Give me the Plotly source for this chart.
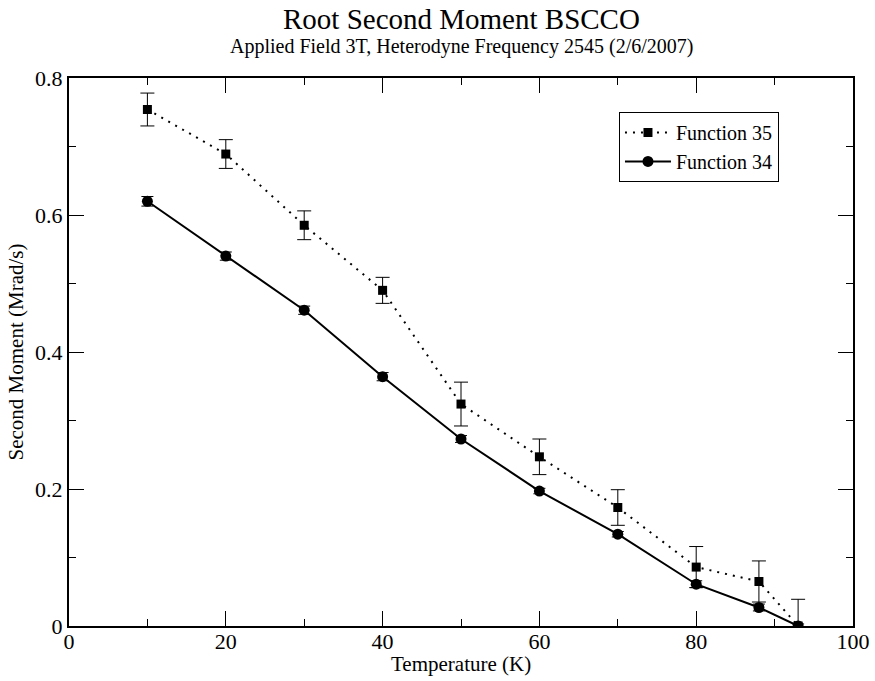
import plotly.graph_objects as go

temps = [10, 20, 30, 40, 50, 60, 70, 80, 88, 93]
f35 = [0.754, 0.689, 0.585, 0.490, 0.324, 0.247, 0.173, 0.086, 0.065, 0.0]
f35_err = [0.024, 0.021, 0.021, 0.019, 0.032, 0.026, 0.026, 0.030, 0.030, 0.039]
f34 = [0.620, 0.540, 0.461, 0.364, 0.273, 0.197, 0.134, 0.061, 0.027, 0.0]
f34_err = [0.007, 0.006, 0.006, 0.006, 0.005, 0.004, 0.004, 0.005, 0.005, 0.003]

title_text = "Root Second Moment BSCCO"
subtitle_text = "Applied Field 3T, Heterodyne Frequency 2545 (2/6/2007)"
x_title = "Temperature (K)"
y_title = "Second Moment (Mrad/s)"

FONT = "Liberation Serif"

fig = go.Figure()
fig.add_trace(go.Scatter(
    x=temps, y=f35, name="Function 35", mode="lines+markers",
    line=dict(color="black", width=2, dash="2px,6px"),
    marker=dict(symbol="square", size=9, color="black"),
    error_y=dict(type="data", array=f35_err, color="black", thickness=1, width=7),
))
fig.add_trace(go.Scatter(
    x=temps, y=f34, name="Function 34", mode="lines+markers",
    line=dict(color="black", width=2),
    marker=dict(symbol="circle", size=11, color="black"),
    error_y=dict(type="data", array=f34_err, color="black", thickness=1, width=6),
))

axis_common = dict(
    showline=True, linecolor="black", linewidth=2, mirror="ticks",
    ticks="inside", ticklen=15, tickwidth=1, tickcolor="black",
    showgrid=False, zeroline=False, automargin=False,
    tickfont=dict(family=FONT, size=22, color="black"),
)

fig.update_xaxes(
    range=[0, 100], dtick=20, tick0=0, ticklabelstandoff=-5,
    minor=dict(ticks="inside", ticklen=7, dtick=10, tickcolor="black", tickwidth=1),
    **axis_common,
)
fig.update_yaxes(
    range=[0, 0.8], dtick=0.2, tick0=0,
    minor=dict(ticks="inside", ticklen=7, dtick=0.1, tickcolor="black", tickwidth=1),
    title=dict(text=y_title, font=dict(family=FONT, size=21, color="black"), standoff=6),
    **axis_common,
)

fig.add_annotation(text=title_text, xref="paper", yref="paper", x=0.5, y=1.1077,
                   xanchor="center", yanchor="middle", showarrow=False,
                   font=dict(family=FONT, size=29, color="black"))
fig.add_annotation(text=subtitle_text, xref="paper", yref="paper", x=0.5, y=1.0566,
                   xanchor="center", yanchor="middle", showarrow=False,
                   font=dict(family=FONT, size=20, color="black"))
fig.add_annotation(text=x_title, xref="paper", yref="paper", x=0.5, y=-0.0695,
                   xanchor="center", yanchor="middle", showarrow=False,
                   font=dict(family=FONT, size=21, color="black"))

fig.update_layout(
    width=875, height=681,
    margin=dict(l=69, r=22, t=78, b=55),
    paper_bgcolor="white", plot_bgcolor="white",
    font=dict(family=FONT, color="black"),
    showlegend=True,
    legend=dict(
        x=0.7015, y=0.938, xanchor="left", yanchor="top",
        bordercolor="black", borderwidth=1, bgcolor="white",
        font=dict(family=FONT, size=20, color="black"),
        tracegroupgap=0, itemwidth=46,
    ),
)

fig.write_html("out.html")
